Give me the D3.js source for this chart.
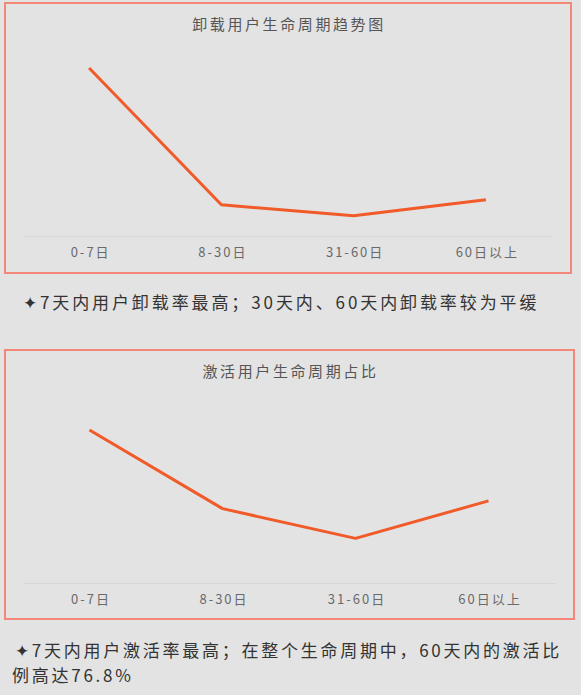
<!DOCTYPE html>
<html>
<head>
<meta charset="utf-8">
<script src="https://cdn.jsdelivr.net/npm/d3@7"></script>
<style>
  html, body { margin: 0; padding: 0; background: #e3e3e3; }
  svg { display: block; font-family: "Noto Sans CJK SC", "Noto Sans", sans-serif; }
</style>
</head>
<body>
<div id="chart"></div>
<script>
// categories shared by both charts
const stages = ["0-7日", "8-30日", "31-60日", "60日以上"];
// uninstall share per stage (%)
const uninstallShare = [65.7, 12.2, 7.9, 14.2];
// activation share per stage (%)
const activeShare = [43.2, 21.0, 12.6, 23.2];

const titles = ["卸载用户生命周期趋势图", "激活用户生命周期占比"];
const notes1 = ["✦7天内用户卸载率最高；30天内、60天内卸载率较为平缓"];
const notes2 = ["✦7天内用户激活率最高；在整个生命周期中，60天内的激活比", "例高达76.8%"];

const W = 581, H = 695;
const lineColor = "#f15a29";
const borderColor = "#f5877a";

const svg = d3.select("#chart").append("svg")
  .attr("width", W)
  .attr("height", H);

svg.append("rect").attr("width", W).attr("height", H).attr("fill", "#e3e3e3");

function drawPanel(box, title, data, yMax, yTop) {
  const g = svg.append("g");
  // frame
  g.append("rect")
    .attr("x", box.x).attr("y", box.y)
    .attr("width", box.w).attr("height", box.h)
    .attr("fill", "none")
    .attr("stroke", borderColor)
    .attr("stroke-width", 2);

  g.append("text")
    .attr("x", box.x + box.w / 2 + 1)
    .attr("y", box.y + 27)
    .attr("text-anchor", "middle")
    .attr("fill", "#555")
    .style("font-size", "15px")
    .style("letter-spacing", "2.6px")
    .text(title);

  const left = box.x + 18, right = box.x + box.w - 19;
  const base = box.y + 233;

  const x = d3.scalePoint()
    .domain(stages)
    .range([left, right])
    .padding(0.5);

  const y = d3.scaleLinear()
    .domain([0, yMax])
    .range([base, yTop]);

  // x axis: thin baseline, no ticks
  const ax = g.append("g")
    .attr("transform", `translate(0,${base})`)
    .call(d3.axisBottom(x).tickSize(0).tickPadding(12));
  ax.select(".domain").attr("stroke", "#d6d6d6").attr("stroke-width", 1);
  ax.selectAll("text")
    .attr("fill", "#6a6a6a")
    .attr("dx", "1px")
    .style("font-size", "13px")
    .style("letter-spacing", "2px")
    .style("font-family", "'Noto Sans CJK SC', sans-serif");

  g.append("path")
    .datum(data)
    .attr("fill", "none")
    .attr("stroke", lineColor)
    .attr("stroke-width", 3)
    .attr("stroke-linejoin", "round")
    .attr("d", d3.line()
      .x((d, i) => x(stages[i]))
      .y(d => y(d)));
}

function drawNote(lines, x0, y0, gap, spacing) {
  svg.selectAll(null)
    .data(lines)
    .enter()
    .append("text")
    .attr("fill", "#333")
    .style("font-size", "17px")
    .style("letter-spacing", spacing + "px")
    .attr("x", (d, i) => i === 0 ? x0 : x0 - 3)
    .attr("y", (d, i) => y0 + i * gap)
    .text(d => d);
}

drawPanel({x: 5, y: 3, w: 566, h: 270}, titles[0], uninstallShare, 70, 57);
drawNote(notes1, 23, 309, 0, 2.9);

drawPanel({x: 5, y: 350, w: 569, h: 269}, titles[1], activeShare, 50, 406);
drawNote(notes2, 15, 657, 25, 2.75);
</script>
</body>
</html>
